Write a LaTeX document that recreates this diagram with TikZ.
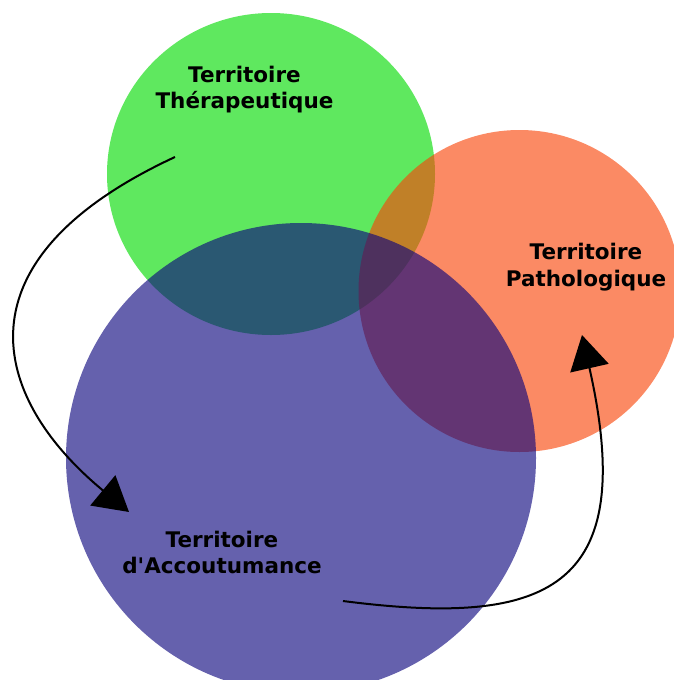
\documentclass[tikz,border=0pt]{standalone}
\usepackage{fontspec}
\setmainfont{DejaVu Sans}[Ligatures=TeXOff]
\usetikzlibrary{arrows.meta}
\definecolor{cgreen}{RGB}{1,218,1}
\definecolor{corange}{RGB}{249,69,9}
\definecolor{cblue}{RGB}{11,4,125}
\tikzset{
  zone/.style={fill opacity=0.63},
  lbl/.style={align=center, inner sep=0pt, font=\bfseries\fontsize{21.5}{26.6}\selectfont, text=black},
  flow/.style={line width=2pt, -{Triangle[length=34pt, width=39pt]}}
}
\begin{document}
\begin{tikzpicture}[x=1pt, y=-1pt]
\useasboundingbox (0,0) rectangle (674,680);
\begin{scope}
  \clip (0,0) rectangle (674,680);
  \fill[cgreen, zone] (271,174) ellipse [x radius=164, y radius=161];
  \fill[corange, zone] (519.5,291) circle [radius=161];
  \fill[cblue, zone] (301,458) circle [radius=235];
\end{scope}

\node[lbl] (ther) at (244.5,89.5) {Territoire\\Thérapeutique};
\node[lbl] (path) at (586,267) {Territoire\\Pathologique};
\node[lbl] (acc) at (222,552.5) {Territoire\\d'Accoutumance};

\coordinate (s1) at (175,157);
\coordinate (e1) at (129,512);
\coordinate (s2) at (343,601);
\coordinate (e2) at (582,335);

\draw[flow] (s1) .. controls (-47,260) and (-10,397) .. (e1);
\draw[flow] (s2) .. controls (545,627) and (640,592) .. (e2);
\end{tikzpicture}
\end{document}
